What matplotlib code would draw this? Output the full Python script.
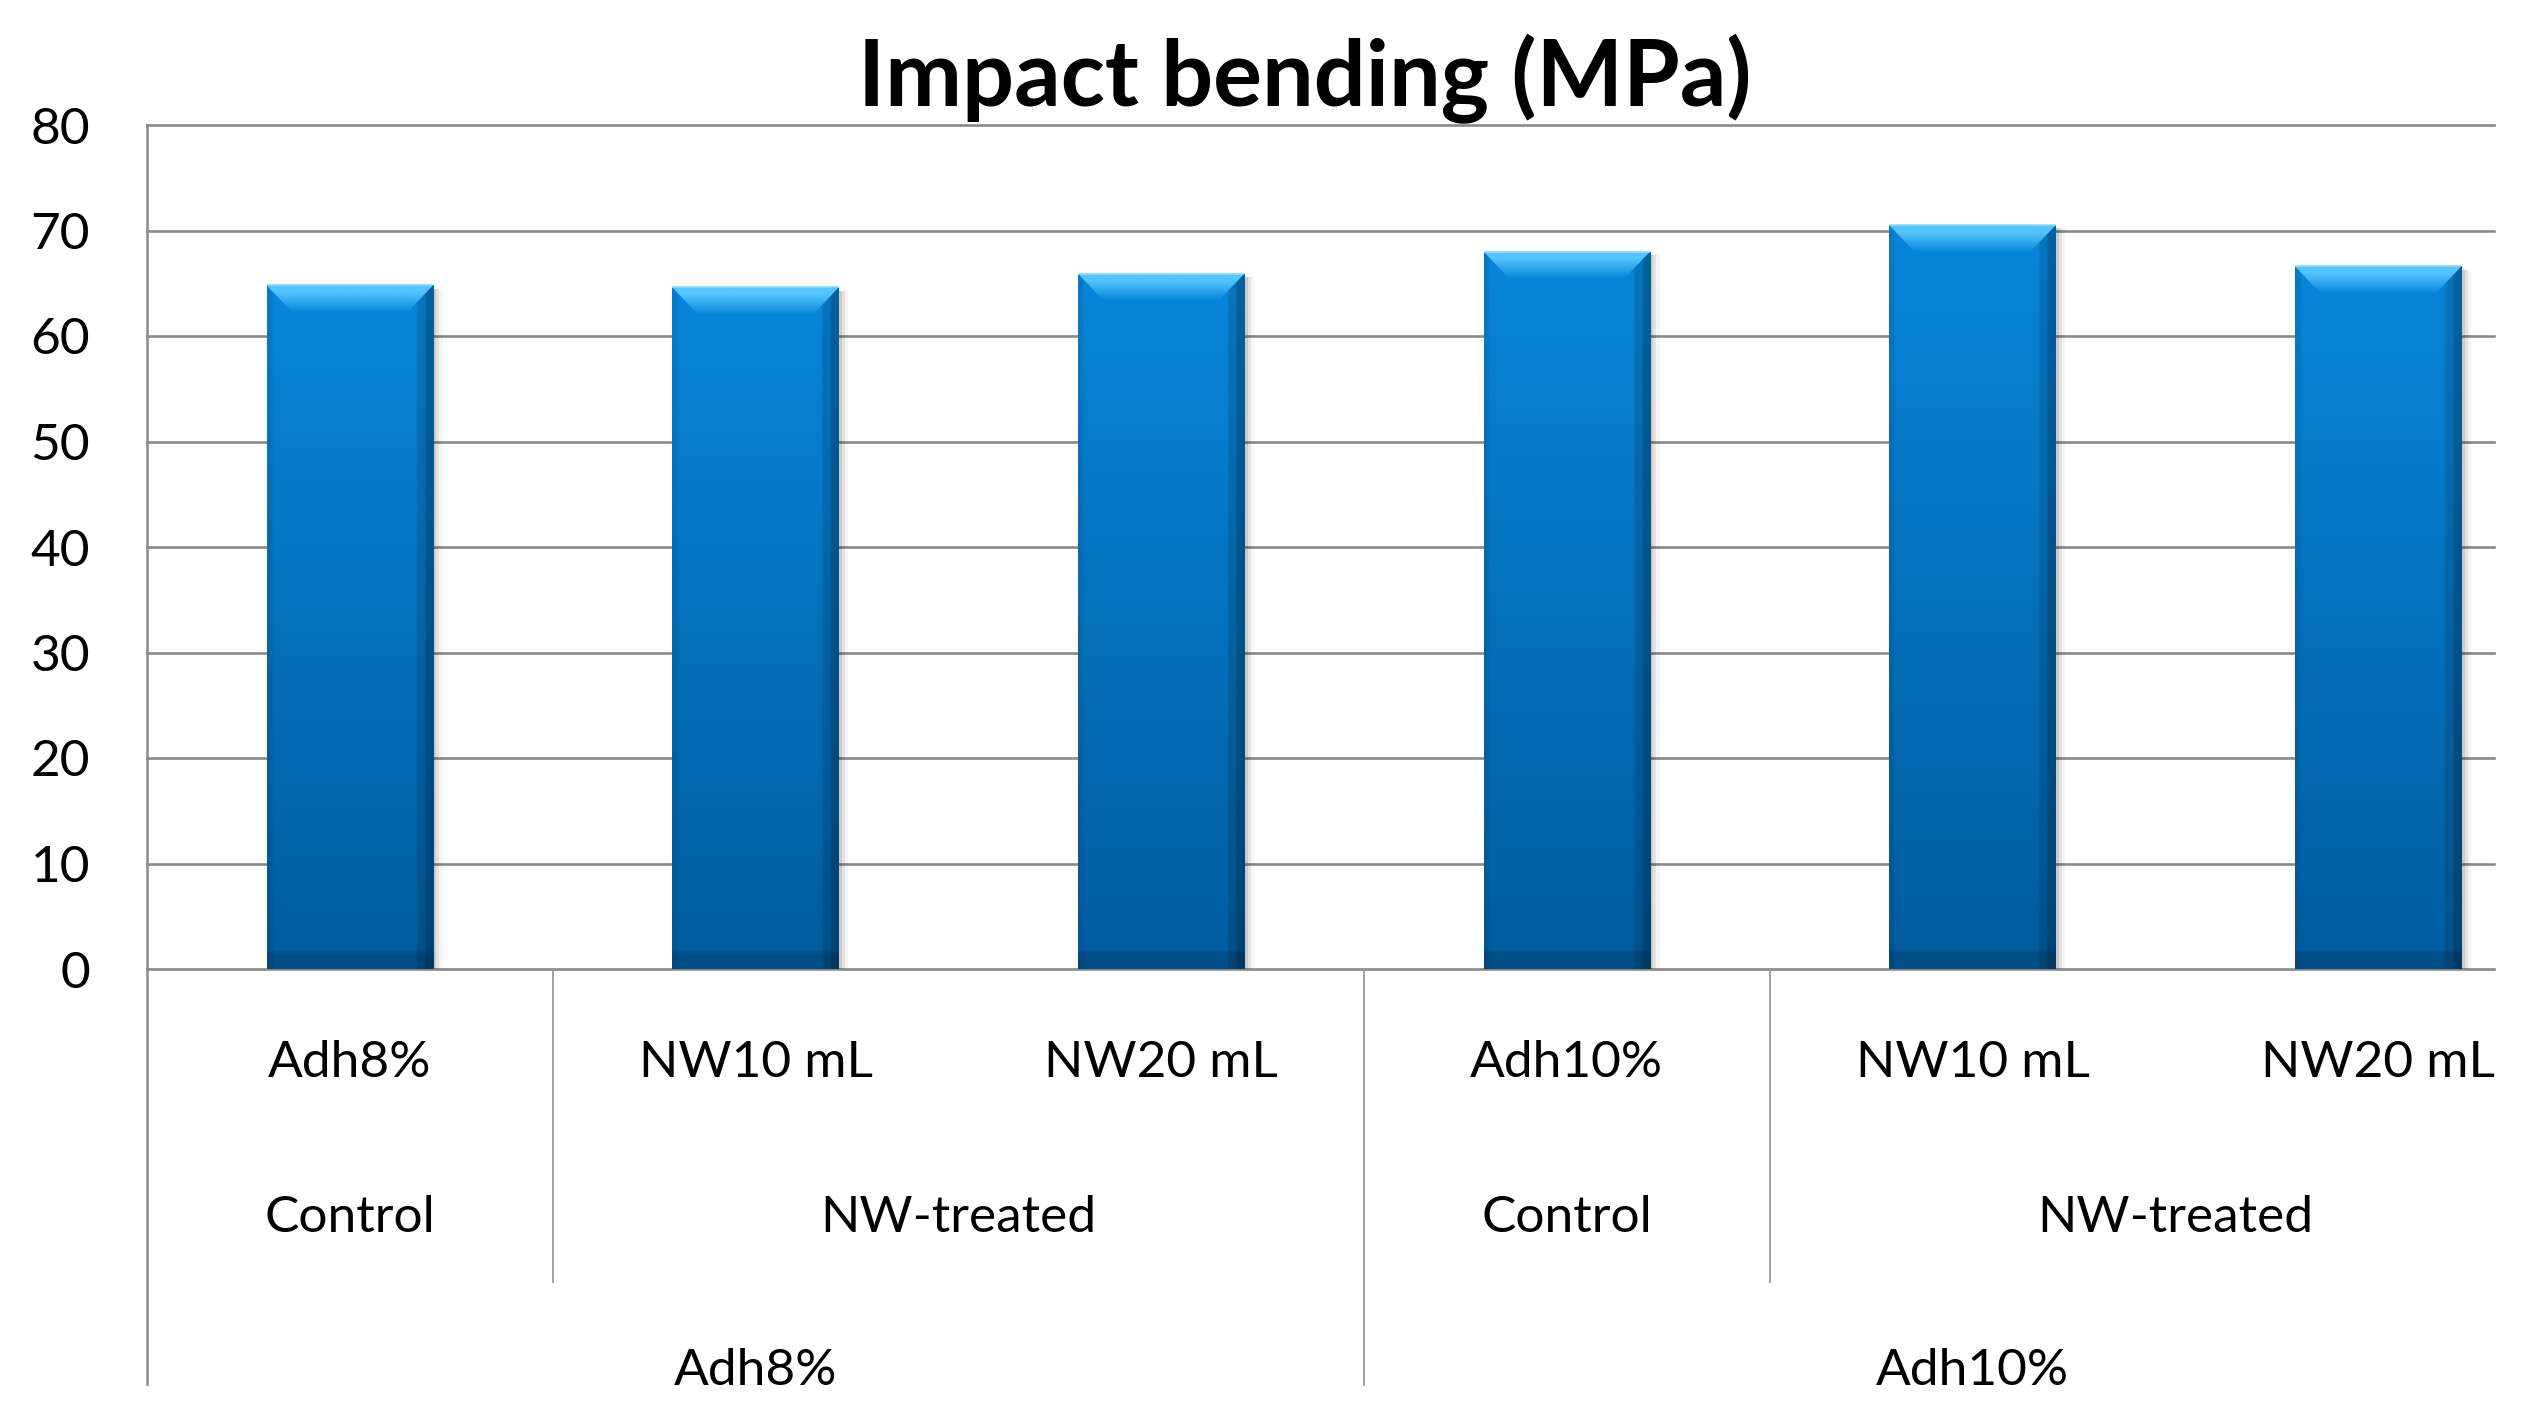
#!/usr/bin/env python3
"""Impact bending bar chart with two-level grouped category axis."""

import numpy as np
import matplotlib
matplotlib.use("Agg")
import matplotlib.pyplot as plt
from matplotlib.patches import Rectangle, Polygon
from matplotlib.colors import to_rgb

# data
categories = ["Adh8%", "NW10 mL", "NW20 mL", "Adh10%", "NW10 mL", "NW20 mL"]
values = [64.8, 64.6, 65.9, 68.0, 70.5, 66.6]
treat_labels = ["Control", "NW-treated", "Control", "NW-treated"]
treat_spans = [(0, 0), (1, 2), (3, 3), (4, 5)]
adh_labels = ["Adh8%", "Adh10%"]
adh_spans = [(0, 2), (3, 5)]
y_ticks = [0, 10, 20, 30, 40, 50, 60, 70, 80]

W, H = 2535, 1425
FONT = ["Lato", "DejaVu Sans"]
plt.rcParams["font.family"] = FONT

# pixel layout of the plot area
left_px, right_px = 147, 2581
top_px, base_px = 125, 969
crop_right, crop_bottom = 2496, 1386
GRID = "#8a8a8a"
SEP = "#9a9a9a"


def yfrac(py):
    """figure pixel row -> axes y fraction"""
    return (base_px - py) / (base_px - top_px)


def draw_bar(ax, x, h, width=0.41):
    x0, x1 = x - width / 2, x + width / 2
    # soft shadow on the right
    for k, a in enumerate([0.10, 0.07, 0.04]):
        ax.add_patch(Rectangle((x0 + 0.008 * (k + 1), 0), width, h - 0.3,
                               color="#000000", alpha=a, lw=0, zorder=2))
    body = Rectangle((x0, 0), width, h, lw=0, facecolor="none", zorder=3)
    ax.add_patch(body)

    # vertical gradient with darker right edge
    top = np.array(to_rgb("#0886da"))
    bot = np.array(to_rgb("#005c9e"))
    t = np.linspace(0, 1, 200)[:, None, None]
    img = top * (1 - t) + bot * t
    img = np.repeat(img, 60, axis=1)
    u = np.linspace(0, 1, 60)
    shade = np.ones(60)
    shade[u > 0.95] = 0.72
    shade[(u > 0.91) & (u <= 0.95)] = 0.87
    shade[u < 0.02] = 0.92
    img = img * shade[None, :, None]
    # darker foot
    foot = np.linspace(0, 1, 200) > 0.975
    img[foot] *= 0.85
    im = ax.imshow(np.clip(img, 0, 1), extent=(x0, x1, 0, h), aspect="auto",
                   origin="upper", zorder=3, interpolation="bilinear")
    im.set_clip_path(body)

    # top bevel
    d, bh = 0.062, 2.5
    bevel = Polygon([(x0, h), (x1, h), (x1 - d, h - bh), (x0 + d, h - bh)],
                    closed=True, lw=0, facecolor="none", zorder=4)
    ax.add_patch(bevel)
    light = np.array(to_rgb("#55c6ff"))
    mid = np.array(to_rgb("#0a88dc"))
    t2 = np.clip((np.linspace(0, 1, 50) - 0.25) / 0.75, 0, 1)[:, None, None]
    img2 = light * (1 - t2) + mid * t2
    img2 = np.repeat(img2, 10, axis=1)
    im2 = ax.imshow(img2, extent=(x0, x1, h - bh, h), aspect="auto",
                    origin="upper", zorder=4, interpolation="bilinear")
    im2.set_clip_path(bevel)
    # thin highlight line along the top
    ax.plot([x0, x1], [h, h], color="#8fdcff", lw=1.2, zorder=5,
            solid_capstyle="butt")


fig = plt.figure(figsize=(W / 100, H / 100), dpi=100)
ax = fig.add_axes([left_px / W, (H - base_px) / H,
                   (right_px - left_px) / W, (base_px - top_px) / H])

n = len(categories)
xs = np.arange(n)

for yv in y_ticks:
    ax.axhline(yv, color=GRID, lw=1.9, zorder=1, clip_on=False)

for x, v in zip(xs, values):
    draw_bar(ax, x, v)

ax.set_xlim(-0.5, n - 0.5)
ax.set_ylim(0, 80)
ax.set_yticks(y_ticks)
ax.set_xticks([])
ax.tick_params(axis="y", length=0, pad=41, labelsize=37, colors="black")
for s in ax.spines.values():
    s.set_visible(False)

tr = ax.get_xaxis_transform()

# left axis line, runs through all label rows
ax.plot([-0.5, -0.5], [1, yfrac(crop_bottom + 5)], transform=tr,
        color=GRID, lw=1.8, clip_on=False, zorder=6)

# level 1: sample labels
for x, lab in zip(xs, categories):
    ax.text(x, yfrac(1077), lab, transform=tr, ha="center", va="baseline",
            fontsize=37, color="black")

# level 2: treatment labels with short separators
for lab, (a, b) in zip(treat_labels, treat_spans):
    ax.text((a + b) / 2, yfrac(1232), lab, transform=tr, ha="center",
            va="baseline", fontsize=37, color="black")
for a, b in treat_spans[1:]:
    if a not in [s[0] for s in adh_spans]:
        ax.plot([a - 0.5, a - 0.5], [0, yfrac(1282)], transform=tr,
                color=SEP, lw=1.3, clip_on=False, zorder=6)

# level 3: adhesive labels with long separators
for lab, (a, b) in zip(adh_labels, adh_spans):
    ax.text((a + b) / 2, yfrac(1385), lab, transform=tr, ha="center",
            va="baseline", fontsize=37, color="black")
for a, b in adh_spans[1:]:
    ax.plot([a - 0.5, a - 0.5], [0, yfrac(crop_bottom + 5)], transform=tr,
            color=SEP, lw=1.3, clip_on=False, zorder=6)

fig.text(1305 / W, (H - 106) / H, "Impact bending (MPa)", ha="center",
         va="baseline", fontsize=66, fontweight="bold", color="black")

# the source picture is cut off on the right and at the bottom
fig.add_artist(Rectangle((crop_right / W, 0), 1, 1, transform=fig.transFigure,
                         color="white", zorder=100))
fig.add_artist(Rectangle((0, 0), 1, (H - crop_bottom) / H,
                         transform=fig.transFigure, color="white", zorder=100))

fig.savefig("out.png", dpi=100, facecolor="white")
